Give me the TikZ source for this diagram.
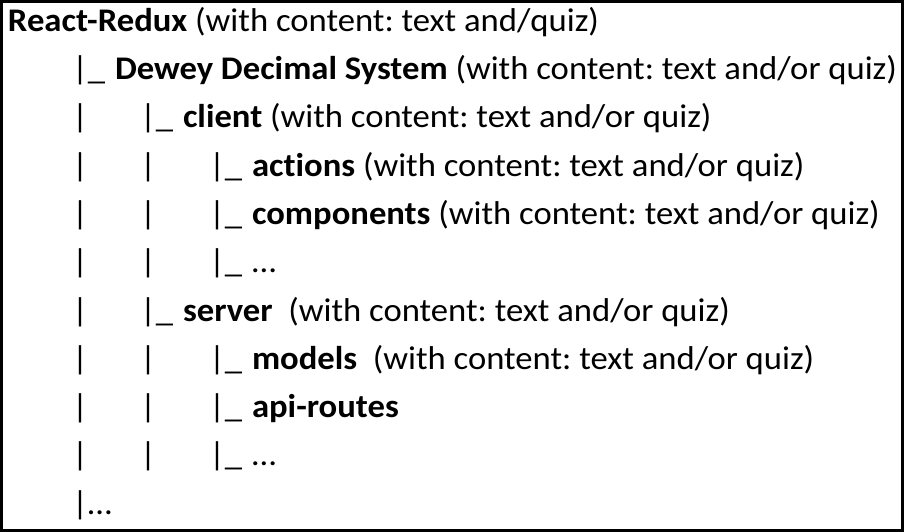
\documentclass[tikz,border=0pt]{standalone}
\usepackage{fontspec}
\setmainfont{Carlito}[Ligatures=NoCommon,FakeStretch=1.05]
\begin{document}
\frenchspacing
\begin{tikzpicture}[x=1pt,y=-1pt,
  txt/.style={anchor=base west,inner sep=0pt,outer sep=0pt,font=\fontsize{33}{40}\selectfont},
  frame/.style={draw=black,line width=2.6pt}]
\useasboundingbox (0,0) rectangle (904,532);
\draw[frame] (1.3,1.3) rectangle (902.7,530.7);
% line 1
\node[txt] (l1) at (8,31.5) {\textbf{React-Redux} (with content: text and/quiz)};
% line 2
\node[txt] (b2a) at (72,79.8) {|\_};
\node[txt] (l2) at (115,79.8) {\textbf{Dewey Decimal System} (with content: text and/or quiz)};
% line 3
\node[txt] (b3a) at (72,128) {|};
\node[txt] (b3b) at (140,128) {|\_};
\node[txt] (l3) at (183,128) {\textbf{client} (with content: text and/or quiz)};
% line 4
\node[txt] (b4a) at (72,176.3) {|};
\node[txt] (b4b) at (140,176.3) {|};
\node[txt] (b4c) at (209,176.3) {|\_};
\node[txt] (l4) at (252,176.3) {\textbf{actions} (with content: text and/or quiz)};
% line 5
\node[txt] (b5a) at (72,224.5) {|};
\node[txt] (b5b) at (140,224.5) {|};
\node[txt] (b5c) at (209,224.5) {|\_};
\node[txt] (l5) at (252,224.5) {\textbf{components} (with content: text and/or quiz)};
% line 6
\node[txt] (b6a) at (72,272.8) {|};
\node[txt] (b6b) at (140,272.8) {|};
\node[txt] (b6c) at (209,272.8) {|\_};
\node[txt] (l6) at (252,272.8) {\ldots};
% line 7
\node[txt] (b7a) at (72,321) {|};
\node[txt] (b7b) at (140,321) {|\_};
\node[txt] (l7) at (183,321) {\textbf{server}\ \ (with content: text and/or quiz)};
% line 8
\node[txt] (b8a) at (72,369.3) {|};
\node[txt] (b8b) at (140,369.3) {|};
\node[txt] (b8c) at (209,369.3) {|\_};
\node[txt] (l8) at (252,369.3) {\textbf{models}\ \ (with content: text and/or quiz)};
% line 9
\node[txt] (b9a) at (72,417.5) {|};
\node[txt] (b9b) at (140,417.5) {|};
\node[txt] (b9c) at (209,417.5) {|\_};
\node[txt] (l9) at (252,417.5) {\textbf{api-routes}};
% line 10
\node[txt] (b10a) at (72,465.8) {|};
\node[txt] (b10b) at (140,465.8) {|};
\node[txt] (b10c) at (209,465.8) {|\_};
\node[txt] (l10) at (252,465.8) {\ldots};
% line 11
\node[txt] (l11) at (72,514) {|\ldots};
\end{tikzpicture}
\end{document}
